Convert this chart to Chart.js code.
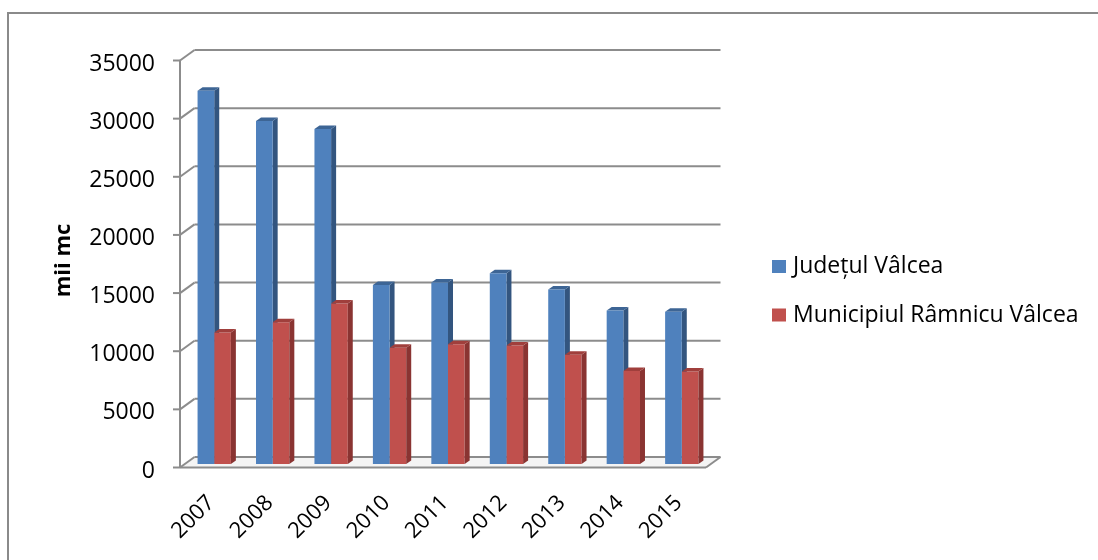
<!DOCTYPE html>
<html>
<head>
<meta charset="utf-8">
<script src="https://cdn.jsdelivr.net/npm/chart.js@4"></script>
<style>
html,body{margin:0;padding:0;background:#ffffff;}
#wrap{width:1098px;height:560px;position:relative;}
canvas{display:block;}
</style>
</head>
<body>
<div id="wrap"><canvas id="c" width="1098" height="560"></canvas></div>
<script>
// ---- data ----
const years = ['2007', '2008', '2009', '2010', '2011', '2012', '2013', '2014', '2015'];
const judetValues = [32100, 29500, 28800, 15400, 15600, 16400, 15000, 13200, 13100];
const municipiuValues = [11300, 12200, 13800, 10000, 10300, 10200, 9400, 8000, 7950];
const seriesNames = ['Județul Vâlcea', 'Municipiul Râmnicu Vâlcea'];
const yTickValues = [0, 5000, 10000, 15000, 20000, 25000, 30000, 35000];
const yTitle = 'mii mc';

// ---- styling ----
const FONT = '"Open Sans", "Noto Sans", sans-serif';
const frontColors = ['#4F81BD', '#C0504D'];
const sideColors = ['#33557F', '#8A3432'];
const topColors = ['#3D6595', '#A03F3C'];
const GRID = '#8c8c8c';
const FRONT = {x: -5, y: 3.5};   // front plane offset
const BACK = {x: 9.5, y: -7};    // back wall offset
const DEPTH = {x: 5, y: -3.5};   // bar depth

function line(ctx, x1, y1, x2, y2) {
  ctx.beginPath(); ctx.moveTo(x1, y1); ctx.lineTo(x2, y2); ctx.stroke();
}

function drawBar3D(chart, dsIndex) {
  const ctx = chart.ctx;
  const meta = chart.getDatasetMeta(dsIndex);
  ctx.save();
  meta.data.forEach(el => {
    const p = el.getProps(['x', 'y', 'base', 'width'], true);
    const x1 = p.x - p.width / 2, x2 = p.x + p.width / 2;
    const top = Math.min(p.y, p.base), bot = Math.max(p.y, p.base);
    ctx.fillStyle = sideColors[dsIndex];
    ctx.beginPath();
    ctx.moveTo(x2, top); ctx.lineTo(x2 + DEPTH.x, top + DEPTH.y);
    ctx.lineTo(x2 + DEPTH.x, bot + DEPTH.y); ctx.lineTo(x2, bot);
    ctx.closePath(); ctx.fill();
    ctx.fillStyle = topColors[dsIndex];
    ctx.beginPath();
    ctx.moveTo(x1, top); ctx.lineTo(x1 + DEPTH.x, top + DEPTH.y);
    ctx.lineTo(x2 + DEPTH.x, top + DEPTH.y); ctx.lineTo(x2, top);
    ctx.closePath(); ctx.fill();
  });
  ctx.restore();
}

const walls = {
  id: 'walls3d',
  beforeDatasetsDraw(chart) {
    const {ctx, chartArea: a, scales: {y}} = chart;
    ctx.save();
    ctx.strokeStyle = GRID;
    ctx.lineWidth = 2;
    const y0 = y.getPixelForValue(0);
    const yTop = y.getPixelForValue(y.max);
    ctx.fillStyle = '#f4f4f4';
    ctx.beginPath();
    ctx.moveTo(a.left + FRONT.x, y0 + FRONT.y);
    ctx.lineTo(a.left + BACK.x, y0 + BACK.y);
    ctx.lineTo(a.right + BACK.x, y0 + BACK.y);
    ctx.lineTo(a.right + FRONT.x, y0 + FRONT.y);
    ctx.closePath(); ctx.fill();
    y.ticks.forEach(t => {
      const py = y.getPixelForValue(t.value);
      line(ctx, a.left + BACK.x, py + BACK.y, a.right + BACK.x, py + BACK.y);
      line(ctx, a.left + FRONT.x, py + FRONT.y, a.left + BACK.x, py + BACK.y);
      line(ctx, a.left + FRONT.x - 7, py + FRONT.y, a.left + FRONT.x, py + FRONT.y);
    });
    line(ctx, a.left + FRONT.x, yTop + FRONT.y, a.left + FRONT.x, y0 + FRONT.y);
    line(ctx, a.left + FRONT.x, y0 + FRONT.y, a.right + FRONT.x, y0 + FRONT.y);
    line(ctx, a.right + FRONT.x, y0 + FRONT.y, a.right + BACK.x, y0 + BACK.y);
    ctx.restore();
  },
  beforeDatasetDraw(chart, args) {
    if (args.index === 1) drawBar3D(chart, 0);
  },
  afterDatasetDraw(chart, args) {
    if (args.index === 1) drawBar3D(chart, 1);
  },
  afterDraw(chart) {
    const ctx = chart.ctx;
    ctx.save();
    ctx.font = '23px ' + FONT;
    ctx.textBaseline = 'alphabetic';
    ctx.textAlign = 'left';
    chart.data.datasets.forEach((ds, i) => {
      const base = 273 + i * 48.5;
      ctx.fillStyle = ds.backgroundColor;
      ctx.fillRect(772, base - 13, 14, 13);
      ctx.fillStyle = '#000000';
      ctx.fillText(ds.label, 793, base);
    });
    ctx.strokeStyle = '#8a8a8a';
    ctx.lineWidth = 2;
    ctx.strokeRect(8, 13, 2000, 2000);
    ctx.restore();
  }
};

new Chart(document.getElementById('c'), {
  type: 'bar',
  data: {
    labels: years,
    datasets: [
      {label: seriesNames[0], data: judetValues, backgroundColor: frontColors[0], borderWidth: 0},
      {label: seriesNames[1], data: municipiuValues, backgroundColor: frontColors[1], borderWidth: 0}
    ]
  },
  options: {
    responsive: false,
    animation: false,
    devicePixelRatio: 1,
    categoryPercentage: 0.57,
    barPercentage: 1.0,
    layout: {padding: {left: 0, top: 57, right: 387, bottom: 0}},
    plugins: {legend: {display: false}, tooltip: {enabled: false}},
    scales: {
      x: {
        grid: {display: false, drawTicks: false},
        border: {display: false},
        ticks: {font: {family: FONT, size: 22}, color: '#000', minRotation: 45, maxRotation: 45, autoSkip: false, padding: 26, labelOffset: -3},
        afterFit(s) { s.height = 560 - 464; }
      },
      y: {
        min: 0, max: 35000,
        afterBuildTicks(s) { s.ticks = yTickValues.map(v => ({value: v})); },
        grid: {display: false, drawTicks: false},
        border: {display: false},
        ticks: {font: {family: FONT, size: 23}, color: '#000', padding: 30, labelOffset: 7,
                callback: v => String(v)},
        title: {display: true, text: yTitle, font: {family: FONT, size: 22, weight: 'bold'}, color: '#000', padding: {top: 51, bottom: 0}},
        afterFit(s) { s.width = 185; }
      }
    }
  },
  plugins: [walls]
});
</script>
</body>
</html>
